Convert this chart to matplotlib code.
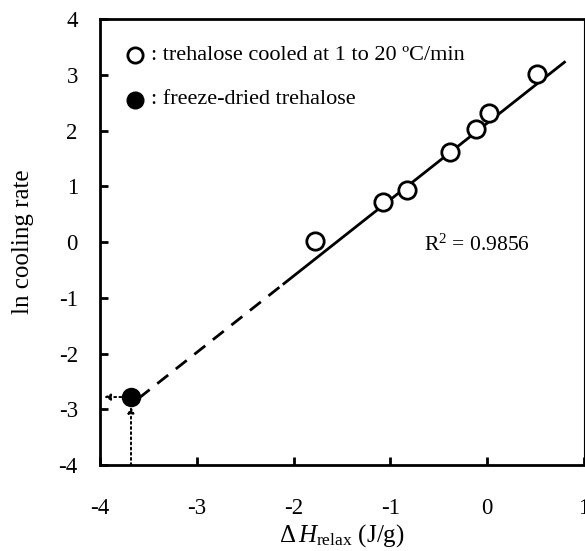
import matplotlib
matplotlib.use('Agg')
import matplotlib.pyplot as plt
import numpy as np

plt.rcParams['font.family'] = ['Liberation Serif', 'DejaVu Serif']
plt.rcParams['mathtext.fontset'] = 'custom'
plt.rcParams['mathtext.rm'] = 'Liberation Serif'
plt.rcParams['mathtext.it'] = 'Liberation Serif:italic'
plt.rcParams['axes.unicode_minus'] = False

# open circles: trehalose cooled at 1 to 20 C/min
dh_cooled = [-1.78, -1.08, -0.83, -0.38, -0.11, 0.02, 0.52]
ln_rate_cooled = [0.02, 0.72, 0.93, 1.62, 2.02, 2.32, 3.02]

# filled circle: freeze-dried trehalose
dh_fd = [-3.68]
ln_rate_fd = [-2.78]

# regression line (solid part and dashed extrapolation)
slope = 1.37
intercept = 2.13
solid_x = [-2.1, 0.8]
dash_x = [-3.6, -2.1]

fig = plt.figure(figsize=(5.85, 5.51), dpi=100)
ax = fig.add_axes([0.171, 0.156, 0.827, 0.8095])

sx = np.array(solid_x)
dx = np.array(dash_x)
ax.plot(sx, slope * sx + intercept, color='black', lw=2)
ax.plot(dx, slope * dx + intercept, color='black', lw=2, ls=(0, (5, 3.5)))

ax.plot(dh_cooled, ln_rate_cooled, 'o', ms=12.5, mfc='white', mec='black', mew=2, zorder=5)
ax.plot(dh_fd, ln_rate_fd, 'o', ms=13, mfc='black', mec='black', zorder=5)

# dotted arrows to the axes
ax.annotate('', xy=(-3.96, ln_rate_fd[0]), xytext=(dh_fd[0] - 0.1, ln_rate_fd[0]),
            arrowprops=dict(arrowstyle='-|>', ls=':', lw=1.4, color='black',
                            mutation_scale=9, shrinkA=0, shrinkB=0))
ax.annotate('', xy=(dh_fd[0], ln_rate_fd[0] - 0.17), xytext=(dh_fd[0], -4),
            arrowprops=dict(arrowstyle='-|>', ls=':', lw=1.4, color='black',
                            mutation_scale=9, shrinkA=0, shrinkB=0))

# legend-like annotations
ax.plot([-3.64], [3.35], 'o', ms=11, mfc='white', mec='black', mew=2, clip_on=False)
ax.text(-3.47, 3.35, ': trehalose cooled at 1 to 20 \u00baC/min', fontsize=16, va='center')
ax.plot([-3.64], [2.55], 'o', ms=12, mfc='black', mec='black', clip_on=False)
ax.text(-3.47, 2.55, ': freeze-dried trehalose', fontsize=16, va='center')

ax.text(-0.65, -0.05, 'R$^2$ = 0.9856', fontsize=15.5, va='center')

ax.set_xlim(-4, 1)
ax.set_ylim(-4, 4)
ax.set_xticks([-4, -3, -2, -1, 0, 1])
ax.set_yticks(range(-4, 5))
ax.tick_params(direction='in', length=6, width=2, labelsize=16.5, pad=16)
ax.tick_params(axis='x', pad=24)
for side in ['left', 'bottom', 'top']:
    ax.spines[side].set_linewidth(2)
ax.spines['right'].set_linewidth(0.8)

ax.set_xlabel(r'$\Delta\,H_{\rm relax}$ (J/g)', fontsize=18, labelpad=2)
ax.set_ylabel('ln cooling rate', fontsize=18, labelpad=18)

fig.savefig('out.png', dpi=100)
